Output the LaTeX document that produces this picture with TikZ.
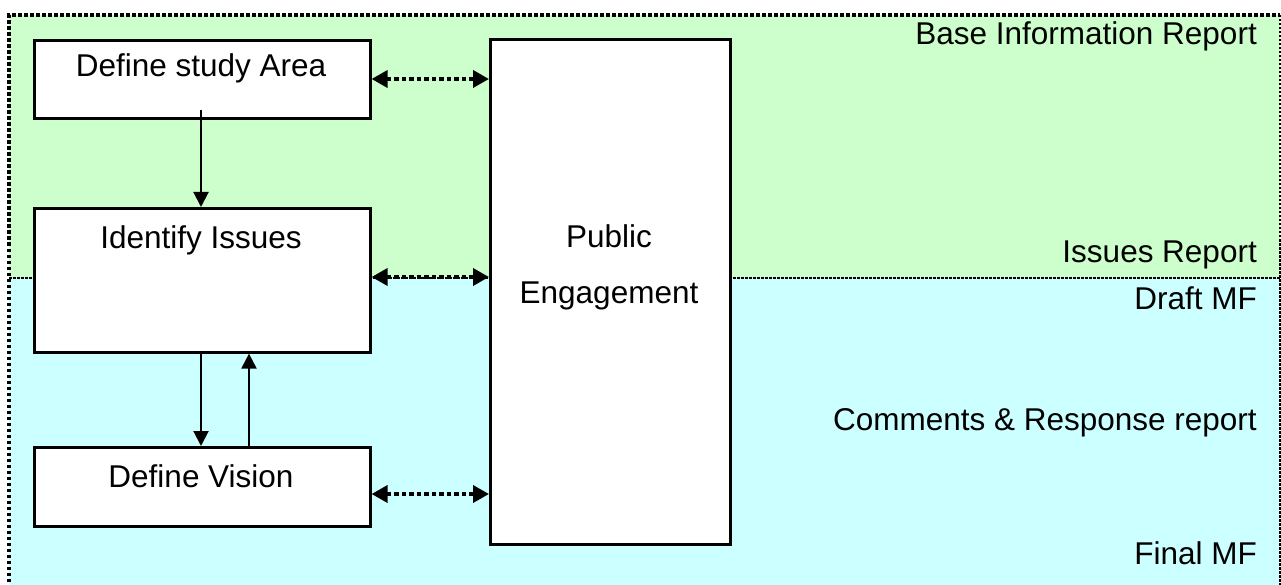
\documentclass[tikz,border=0pt]{standalone}
\usepackage{fontspec}
\setmainfont{Liberation Sans}
\usetikzlibrary{arrows.meta}
\definecolor{bandgreen}{HTML}{CCFFCC}
\definecolor{bandcyan}{HTML}{CCFFFF}
\tikzset{
  stepbox/.style={draw=black, line width=2.6pt, fill=white},
  lbl/.style={font=\fontsize{31.5}{38}\selectfont, inner sep=0pt},
  flow/.style={line width=2pt, -{Triangle[length=15pt,width=15pt]}},
  talk/.style={line width=3.6pt, dash pattern=on 4.5pt off 3pt,
    {Triangle[length=16pt,width=17pt]}-{Triangle[length=16pt,width=17pt]}},
  frame/.style={line width=3.6pt, dash pattern=on 3.5pt off 2.5pt},
  divider/.style={line width=2.4pt, dash pattern=on 2.5pt off 1.5pt},
}
\begin{document}
\begin{tikzpicture}[x=1pt,y=-1pt]
\useasboundingbox (0,0) rectangle (1281,585);
% coloured bands
\fill[bandgreen] (9,15) rectangle (1280,278);
\fill[bandcyan] (9,278) rectangle (1280,600);
% outer frame and band divider
\draw[frame] (9,600) -- (9,15) -- (1280,15);
\draw[divider] (1280,15) -- (1280,600);
\draw[divider] (9,278) -- (1280,278);
% process steps
\node[stepbox, minimum width=336pt, minimum height=78pt, anchor=north west] (area) at (33,39) {};
\node[stepbox, minimum width=336pt, minimum height=144pt, anchor=north west] (issues) at (33,207) {};
\node[stepbox, minimum width=336pt, minimum height=79pt, anchor=north west] (vision) at (33,446) {};
\node[stepbox, minimum width=240pt, minimum height=505pt, anchor=north west] (public) at (489,38) {};
\node[lbl] (areat) at (201,68) {Define study Area};
\node[lbl] (issuest) at (201,240) {Identify Issues};
\node[lbl] (visiont) at (201,476) {Define Vision};
\node[lbl, align=center] (publict) at (609,267) {Public\\[18pt]Engagement};
% outputs
\node[lbl, anchor=east] (o1) at (1257,36) {Base Information Report};
\node[lbl, anchor=east] (o2) at (1257,255) {Issues Report};
\node[lbl, anchor=east] (o3) at (1257,298) {Draft MF};
\node[lbl, anchor=east] (o4) at (1257,423) {Comments \& Response report};
\node[lbl, anchor=east] (o5) at (1257,553) {Final MF};
% flow between steps
\coordinate (a0) at (201,110);
\draw[flow] (a0) -- (issues.north -| a0);
\draw[flow] (issues.south -| a0) -- (vision.north -| a0);
\coordinate (b0) at (249,446);
\draw[flow] (b0) -- (issues.south -| b0);
% links with public engagement
\coordinate (l1) at (369,79);
\coordinate (l2) at (369,277);
\coordinate (l3) at (369,494);
\draw[talk] (area.east |- l1) -- (public.west |- l1);
\draw[talk] (issues.east |- l2) -- (public.west |- l2);
\draw[talk] (vision.east |- l3) -- (public.west |- l3);
\end{tikzpicture}
\end{document}
